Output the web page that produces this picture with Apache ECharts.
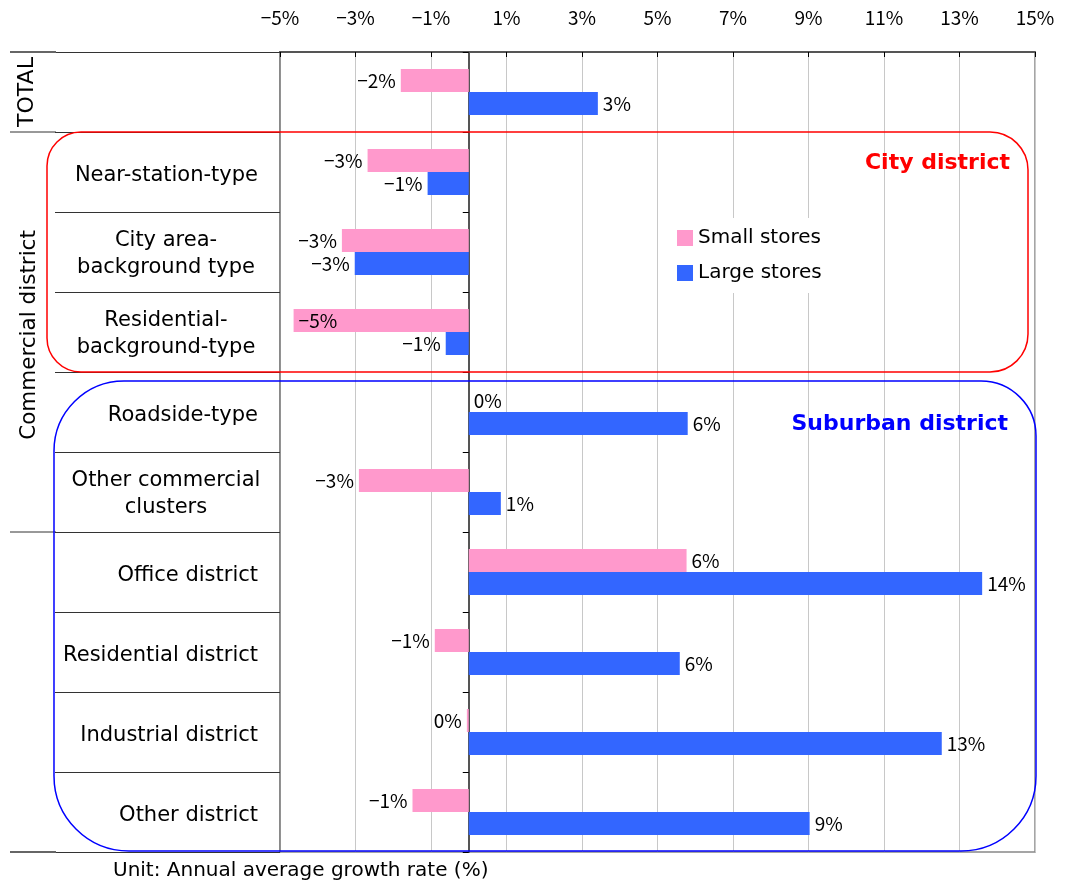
<!DOCTYPE html>
<html>
<head>
<meta charset="utf-8">
<script src="https://cdn.jsdelivr.net/npm/echarts@6/dist/echarts.min.js"></script>
<style>
html, body { margin: 0; padding: 0; background: #fff; }
#main { width: 1065px; height: 886px; }
</style>
</head>
<body>
<div id="main"></div>
<script>
// data
var categories = ['TOTAL', 'Near-station-type', 'City area-\nbackground type', 'Residential-\nbackground-type',
  'Roadside-type', 'Other commercial\nclusters', 'Office district', 'Residential district',
  'Industrial district', 'Other district'];
var smallStores = [-1.80, -2.68, -3.36, -4.64, 0, -2.91, 5.77, -0.90, -0.05, -1.49];
var largeStores = [3.42, -1.09, -3.02, -0.61, 5.80, 0.85, 13.60, 5.59, 12.53, 9.03];
var seriesNames = ['Small stores', 'Large stores'];
var axisMin = -5, axisMax = 15, axisStep = 2;

var NUMFONT = 'Noto Sans CJK JP';
var TXTFONT = 'DejaVu Sans';
var MINUS = '\u2212';

function pct(v) {
  var r = Math.round(v);
  return (r < 0 ? MINUS : '') + Math.abs(r) + '%';
}

// bar items, label goes on the outer end of the bar
function barData(arr) {
  return arr.map(function (v) {
    var pos = v < 0 ? 'left' : 'right';
    if (v < -4) pos = 'insideLeft';
    return { value: v, label: { position: pos } };
  });
}

// two-line labels are centred inside a right-aligned block
var yAxisData = categories.map(function (c) {
  if (c.indexOf('\n') < 0) return c;
  return { value: c, textStyle: { align: 'center', padding: [0, 184, 0, 0] } };
});

var gridTop = 52, gridBottom = 34, gridLeft = 280, gridRight = 30;
var H = 886;
var rowH = (H - gridTop - gridBottom) / categories.length;
function rowY(k) { return gridTop + rowH * k; }

var myChart = echarts.init(document.getElementById('main'));

myChart.setOption({
  animation: false,
  textStyle: { fontFamily: TXTFONT },
  grid: {
    left: gridLeft, right: gridRight, top: gridTop, bottom: gridBottom,
    show: true, borderColor: '#888', borderWidth: 1.5
  },
  legend: {
    data: seriesNames,
    orient: 'vertical',
    left: 670, top: 218,
    padding: [10, 14, 10, 7],
    backgroundColor: '#fff',
    icon: 'rect',
    itemWidth: 16, itemHeight: 16, itemGap: 15,
    textStyle: { fontFamily: TXTFONT, fontSize: 20, color: '#000', padding: [3, 0, 0, 0] }
  },
  xAxis: {
    type: 'value',
    position: 'top',
    min: axisMin, max: axisMax, interval: axisStep,
    axisLine: { show: true, lineStyle: { color: '#555', width: 2 } },
    axisTick: { show: true, inside: true, length: 5, lineStyle: { color: '#000' } },
    axisLabel: {
      margin: 25,
      fontFamily: NUMFONT, fontSize: 19, color: '#000',
      formatter: function (v) { return (v < 0 ? MINUS : '') + Math.abs(v) + '%'; }
    },
    splitLine: { show: true, lineStyle: { color: '#c8c8c8', width: 1 } }
  },
  yAxis: [
    {
      type: 'category',
      inverse: true,
      data: yAxisData,
      axisLine: { onZero: false, lineStyle: { color: '#808080', width: 1.5 } },
      axisTick: { show: true, interval: 0, length: 225, lineStyle: { color: '#333', width: 1 } },
      axisLabel: {
        interval: 0, margin: 22,
        fontFamily: TXTFONT, fontSize: 21, color: '#000',
        formatter: function (v) {
          if (v === 'TOTAL') return '';
          var lines = v.split('\n');
          var st = lines.length > 1 ? 'm' : 't';
          return lines.map(function (s) { return '{' + st + '|' + s + '}'; }).join('\n');
        },
        rich: {
          t: { fontFamily: TXTFONT, fontSize: 21, color: '#000', lineHeight: 20, padding: [7, 0, 0, 0] },
          m: { fontFamily: TXTFONT, fontSize: 21, color: '#000', lineHeight: 27, padding: [5, 0, 0, 0] }
        }
      }
    },
    {
      type: 'category',
      inverse: true,
      data: categories,
      axisLine: { onZero: true, lineStyle: { color: '#555', width: 2 } },
      axisTick: { show: true, interval: 0, inside: true, length: 6, lineStyle: { color: '#000' } },
      axisLabel: { show: false },
      splitLine: { show: false }
    }
  ],
  series: [
    {
      name: seriesNames[0],
      type: 'bar',
      yAxisIndex: 0,
      data: barData(smallStores),
      barWidth: 23,
      barGap: '0%',
      itemStyle: { color: '#FF99CC' },
      label: {
        show: true, distance: 5,
        fontFamily: NUMFONT, fontSize: 19, color: '#000',
        formatter: function (p) { return pct(p.value); }
      }
    },
    {
      name: seriesNames[1],
      type: 'bar',
      yAxisIndex: 0,
      data: barData(largeStores),
      barWidth: 23,
      barGap: '0%',
      itemStyle: { color: '#3366FF' },
      label: {
        show: true, distance: 5,
        fontFamily: NUMFONT, fontSize: 19, color: '#000',
        formatter: function (p) { return pct(p.value); }
      }
    }
  ],
  graphic: [
    // left heading column lines
    { type: 'line', z: 5, shape: { x1: 10, y1: rowY(0), x2: 56, y2: rowY(0) }, style: { stroke: '#666', lineWidth: 2 } },
    { type: 'line', z: 5, shape: { x1: 10, y1: rowY(1), x2: 56, y2: rowY(1) }, style: { stroke: '#333', lineWidth: 1 } },
    { type: 'line', z: 5, shape: { x1: 10, y1: rowY(6), x2: 56, y2: rowY(6) }, style: { stroke: '#333', lineWidth: 1 } },
    { type: 'line', z: 5, shape: { x1: 10, y1: rowY(10), x2: 56, y2: rowY(10) }, style: { stroke: '#666', lineWidth: 2 } },
    {
      type: 'text', z: 5, x: 27, y: (rowY(0) + rowY(1)) / 2, rotation: Math.PI / 2,
      style: { text: 'TOTAL', font: '22px "' + TXTFONT + '"', fill: '#000', align: 'center', verticalAlign: 'middle' }
    },
    {
      type: 'text', z: 5, x: 29, y: (rowY(1) + rowY(6)) / 2 + 3, rotation: Math.PI / 2,
      style: { text: 'Commercial district', font: '21.5px "' + TXTFONT + '"', fill: '#000', align: 'center', verticalAlign: 'middle' }
    },
    // district frames
    {
      type: 'rect', z: 10,
      shape: { x: 47, y: rowY(1), width: 1028 - 47, height: rowY(4) - rowY(1), r: [34, 38, 38, 34] },
      style: { fill: 'none', stroke: '#FF0000', lineWidth: 1.5 }
    },
    {
      type: 'text', z: 10, x: 1010, y: 163,
      style: { text: 'City district', font: 'bold 22px "' + TXTFONT + '"', fill: '#FF0000', align: 'right', verticalAlign: 'middle' }
    },
    {
      type: 'rect', z: 10,
      shape: { x: 54, y: rowY(4) + 9, width: 1036 - 54, height: rowY(10) - 1 - rowY(4) - 9, r: [70, 55, 75, 75] },
      style: { fill: 'none', stroke: '#0000FF', lineWidth: 1.5 }
    },
    {
      type: 'text', z: 10, x: 1008, y: 424,
      style: { text: 'Suburban district', font: 'bold 22px "' + TXTFONT + '"', fill: '#0000FF', align: 'right', verticalAlign: 'middle' }
    },
    {
      type: 'text', z: 10, x: 113, y: 871,
      style: { text: 'Unit: Annual average growth rate (%)', font: '20px "' + TXTFONT + '"', fill: '#000', align: 'left', verticalAlign: 'middle' }
    }
  ]
});
</script>
</body>
</html>
